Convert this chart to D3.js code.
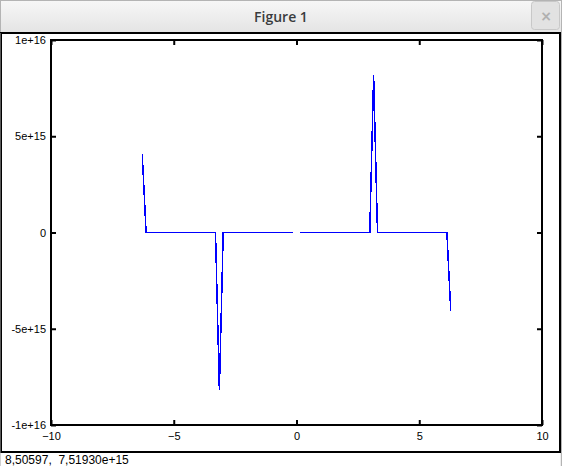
<!DOCTYPE html>
<html>
<head>
<meta charset="utf-8">
<script src="https://cdn.jsdelivr.net/npm/d3@7"></script>
<style>
  html, body { margin: 0; padding: 0; background: #fff; }
  svg { display: block; }
</style>
</head>
<body>
<svg id="fig" width="562" height="466"></svg>
<script>
// sample points (x, y); null = undefined point at x = 0
const xVals = [-6.2832, -6.1261, -3.2987, -3.1416, -2.9845, -0.1571, 0, 0.1571, 2.9845, 3.1416, 3.2987, 6.1261, 6.2832];
const yVals = [4.08e15, 0, 0, -8.17e15, 0, 0, null, 0, 0, 8.17e15, 0, 0, -4.08e15];
const xTicks = [-10, -5, 0, 5, 10];
const yTicks = [-1e16, -5e15, 0, 5e15, 1e16];
const statusText = "8,50597,  7,51930e+15";

const svg = d3.select("#fig");
const W = 562, H = 466;

// window chrome
const defs = svg.append("defs");
const grad = defs.append("linearGradient").attr("id", "tb").attr("x1", 0).attr("y1", 0).attr("x2", 0).attr("y2", 1);
grad.append("stop").attr("offset", "0%").attr("stop-color", "#f7f7f7");
grad.append("stop").attr("offset", "100%").attr("stop-color", "#e4e4e4");

svg.append("rect").attr("x", 0).attr("y", 0).attr("width", W).attr("height", H).attr("fill", "#ededed");
svg.append("rect").attr("x", 0.5).attr("y", 0.5).attr("width", W - 1).attr("height", 32)
  .attr("fill", "url(#tb)").attr("stroke", "#b4b4b4");
svg.append("text").attr("x", W / 2).attr("y", 22).attr("text-anchor", "middle")
  .attr("font-family", "Open Sans, sans-serif").attr("font-weight", 600).attr("font-size", 14)
  .attr("fill", "#3a3c3e").text("Figure 1");
// close button
svg.append("rect").attr("x", 531.5).attr("y", 1.5).attr("width", 28).attr("height", 28).attr("rx", 3)
  .attr("fill", "#e2e2e2").attr("stroke", "#c8c8c8");
svg.append("text").attr("x", 546).attr("y", 21).attr("text-anchor", "middle")
  .attr("font-family", "DejaVu Sans, sans-serif").attr("font-size", 14).attr("font-weight", "bold")
  .attr("fill", "#b0b0b0").text("\u00d7");

// canvas area
svg.append("rect").attr("x", 1).attr("y", 33).attr("width", 559).attr("height", 419)
  .attr("fill", "#fff").attr("stroke", "#000").attr("stroke-width", 2);
// status bar
svg.append("rect").attr("x", 1).attr("y", 453).attr("width", 559).attr("height", 13).attr("fill", "#fff");
svg.append("line").attr("x1", 0).attr("x2", 0).attr("y1", 33).attr("y2", H).attr("stroke", "#b4b4b4");
svg.append("line").attr("x1", W - 0.5).attr("x2", W - 0.5).attr("y1", 33).attr("y2", H).attr("stroke", "#b4b4b4");
svg.append("text").attr("x", 5).attr("y", 464)
  .attr("font-family", "Liberation Sans, sans-serif").attr("font-size", 12)
  .attr("fill", "#000").style("white-space", "pre").text(statusText);

// plot
const x = d3.scaleLinear().domain([-10, 10]).range([51, 542]);
const y = d3.scaleLinear().domain([-1e16, 1e16]).range([425, 40]);
const fmtY = d => d === 0 ? "0" : d.toExponential();

const points = xVals.map((v, i) => ({ x: v, y: yVals[i] }));
const line = d3.line()
  .defined(d => d.y !== null)
  .x(d => x(d.x))
  .y(d => y(d.y));

svg.append("path")
  .datum(points)
  .attr("d", line)
  .attr("fill", "none")
  .attr("stroke", "#0000ff")
  .attr("stroke-width", 1.5)
  .attr("shape-rendering", "crispEdges");

const axisStyle = g => {
  g.select(".domain").remove();
  g.selectAll(".tick line").attr("stroke", "#000").attr("stroke-width", 2);
  g.selectAll(".tick text").attr("fill", "#000")
    .attr("font-family", "Liberation Sans, sans-serif").attr("font-size", 11);
};

svg.append("g").attr("transform", `translate(0,${y.range()[0]})`)
  .call(d3.axisTop(x).tickValues(xTicks).tickSize(5).tickFormat(""))
  .call(axisStyle);
svg.append("g").attr("transform", `translate(0,${y.range()[0]})`)
  .call(d3.axisBottom(x).tickValues(xTicks).tickSize(0).tickPadding(7).tickFormat(d3.format("d")))
  .call(axisStyle);
svg.append("g").attr("transform", `translate(0,${y.range()[1]})`)
  .call(d3.axisBottom(x).tickValues(xTicks).tickSize(5).tickFormat(""))
  .call(axisStyle);
svg.append("g").attr("transform", `translate(${x.range()[0]},0)`)
  .call(d3.axisRight(y).tickValues(yTicks).tickSize(5).tickFormat(""))
  .call(axisStyle);
svg.append("g").attr("transform", `translate(${x.range()[0]},0)`)
  .call(d3.axisLeft(y).tickValues(yTicks).tickSize(0).tickPadding(5).tickFormat(fmtY))
  .call(axisStyle);
svg.append("g").attr("transform", `translate(${x.range()[1]},0)`)
  .call(d3.axisLeft(y).tickValues(yTicks).tickSize(5).tickFormat(""))
  .call(axisStyle);

svg.append("rect")
  .attr("x", x.range()[0]).attr("y", y.range()[1])
  .attr("width", x.range()[1] - x.range()[0]).attr("height", y.range()[0] - y.range()[1])
  .attr("fill", "none").attr("stroke", "#000").attr("stroke-width", 2)
  .attr("shape-rendering", "crispEdges");
</script>
</body>
</html>
